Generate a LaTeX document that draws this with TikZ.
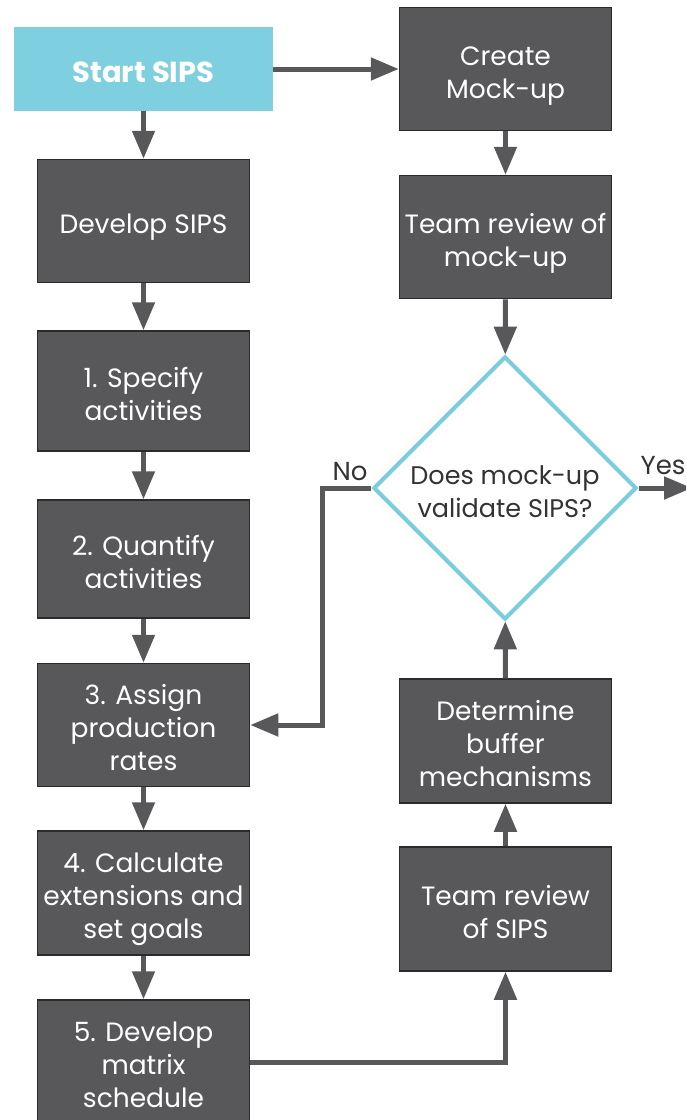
\documentclass[tikz,border=0pt]{standalone}
\usepackage{fontspec}
\setmainfont{Poppins}
\usetikzlibrary{shapes.geometric,arrows.meta}
\definecolor{boxgray}{HTML}{58585A}
\definecolor{edgegray}{HTML}{2B2B2B}
\definecolor{startblue}{HTML}{7ECFDF}
\definecolor{diamondline}{HTML}{7ACDDD}
\definecolor{labeltext}{HTML}{333333}
\begin{document}
\begin{tikzpicture}[x=1pt,y=-1pt,
  % fixed text extents so that every block sits at the same optical height
  oneline/.style={text height=33pt, text depth=8pt},
  twolines/.style={text height=66pt, text depth=8pt},
  threelines/.style={text height=99pt, text depth=8pt},
  stepbox/.style={rectangle, fill=boxgray, draw=edgegray, line width=1.5pt,
    minimum width=212pt, minimum height=123pt, inner sep=0pt,
    text=white, align=center, font=\fontsize{26.5}{33}\selectfont},
  startbox/.style={rectangle, fill=startblue, draw=none,
    minimum width=259pt, minimum height=84pt, inner sep=0pt,
    text height=33pt, text depth=7pt,
    text=white, font=\bfseries\fontsize{29}{34}\selectfont},
  decision/.style={diamond, draw=diamondline, fill=white, line width=4pt,
    minimum width=262pt, minimum height=260pt, inner sep=0pt, align=center,
    text=labeltext, font=\fontsize{25.5}{33}\selectfont},
  flow/.style={draw=boxgray, line width=5pt,
    -{Triangle[length=28pt,width=22pt]}},
  tag/.style={text=labeltext, font=\fontsize{26}{28}\selectfont, inner sep=0pt},
]
\clip (0,0) rectangle (686,1120);
\fill[white] (0,0) rectangle (686,1120);

% left column
\node[startbox] (start) at (143.5,69) {Start SIPS};
\node[stepbox, oneline] (dev) at (143.5,221) {Develop SIPS};
\node[stepbox, twolines, minimum height=120pt] (spec) at (143.5,391) {1. Specify\\activities};
\node[stepbox, twolines, minimum height=118pt] (quant) at (143.5,559) {2. Quantify\\activities};
\node[stepbox, threelines] (assign) at (143.5,725) {3. Assign\\production\\rates};
\node[stepbox, threelines, minimum height=124pt] (calc) at (143.5,893) {4. Calculate\\extensions and\\set goals};
\node[stepbox, threelines, minimum height=124pt] (matrix) at (143.5,1062) {5. Develop\\matrix\\schedule};

% right column
\node[stepbox, twolines] (create) at (505.5,69) {Create\\Mock-up};
\node[stepbox, twolines] (review1) at (505.5,237) {Team review of\\mock-up};
\node[decision, twolines] (check) at (505,488) {Does mock-up\\validate SIPS?};
\node[stepbox, threelines, minimum height=124pt] (buffer) at (505.5,741) {Determine\\buffer\\mechanisms};
\node[stepbox, twolines, minimum height=124pt] (review2) at (505.5,909) {Team review\\of SIPS};

% connectors
\draw[flow] (start.east) -- (start.east -| create.west);
\draw[flow] (start) -- (dev);
\draw[flow] (dev) -- (spec);
\draw[flow] (spec) -- (quant);
\draw[flow] (quant) -- (assign);
\draw[flow] (assign) -- (calc);
\draw[flow] (calc) -- (matrix);
\draw[flow] (create) -- (review1);
\draw[flow] (review1) -- (check);
\draw[flow] (review2) -- (buffer);
\draw[flow] (buffer) -- (check);
\draw[flow] (matrix.east) -| (review2.south);
\coordinate (noturn) at (322,488);
\draw[flow] (check.west) -- (noturn) |- (assign.east);
\coordinate (yesend) at (692,488);
\draw[flow] (check.east) -- (yesend);

% branch labels
\node[tag] (nolabel) at (350,472) {No};
\node[tag] (yeslabel) at (663,466) {Yes};
\end{tikzpicture}
\end{document}
